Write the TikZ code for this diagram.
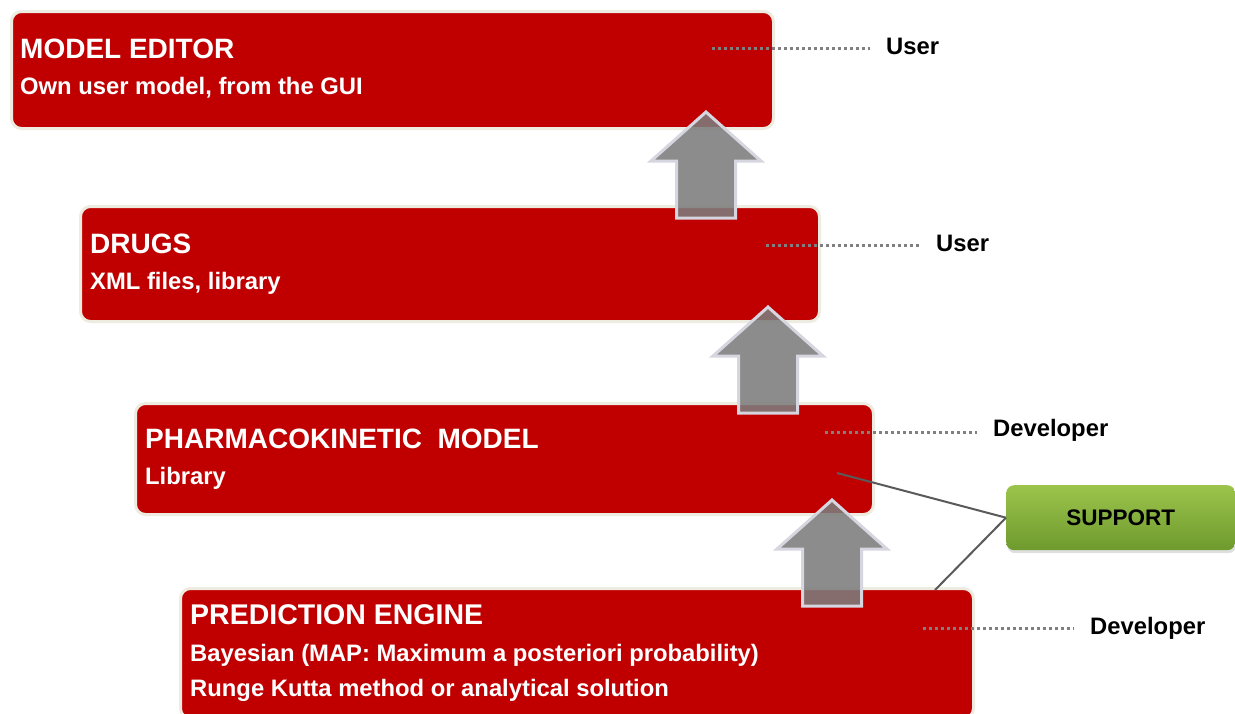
\documentclass[tikz,border=0pt]{standalone}
\usepackage{fontspec}
\setmainfont{Liberation Sans}
\usetikzlibrary{shadows}
\definecolor{boxred}{RGB}{192,0,0}
\definecolor{boxrim}{RGB}{238,236,225}
\definecolor{arrfill}{RGB}{125,125,125}
\definecolor{arrrim}{RGB}{214,214,224}
\definecolor{dotgray}{RGB}{128,128,128}
\definecolor{lngray}{RGB}{90,90,90}
\definecolor{suptop}{RGB}{156,196,76}
\definecolor{supbot}{RGB}{110,154,46}
\tikzset{
  redbox/.style={draw=boxrim, line width=3pt, fill=boxred, rounded corners=10pt, anchor=north west, inner sep=0pt},
  ttl/.style={anchor=base west, inner sep=0pt, text=white, font=\bfseries\fontsize{28}{30}\selectfont},
  sub/.style={anchor=base west, inner sep=0pt, text=white, font=\bfseries\fontsize{23.8}{25}\selectfont},
  lbl/.style={anchor=base west, inner sep=0pt, text=black, font=\bfseries\fontsize{23.8}{25}\selectfont},
  dotline/.style={draw=dotgray, line width=3pt, dash pattern=on 3pt off 3pt, shorten >=16pt},
  supline/.style={draw=lngray, line width=2pt},
  arrowstyle/.style={fill=arrfill, fill opacity=0.88, draw=arrrim, line width=3pt, line join=miter},
  pics/uparrow/.style={code={
    \path[arrowstyle] (0,0) -- (55,49) -- (29.5,49) -- (29.5,106) -- (-29.5,106) -- (-29.5,49) -- (-55,49) -- cycle;
  }},
  supbox/.style={rounded corners=8pt, top color=suptop, bottom color=supbot, draw=none,
    minimum width=229pt, minimum height=65pt, inner sep=0pt,
    drop shadow={shadow xshift=1pt, shadow yshift=-3pt, opacity=0.25},
    font=\bfseries\fontsize{22.5}{24}\selectfont}
}
\begin{document}
\begin{tikzpicture}[x=1pt,y=-1pt]
\useasboundingbox (0,0) rectangle (1235,713);
\fill[white] (0,0) rectangle (1235,713);

% boxes
\node[redbox, minimum width=762pt, minimum height=117pt] (me) at (10,10) {};
\node[redbox, minimum width=739pt, minimum height=115pt] (dr) at (79,205) {};
\node[redbox, minimum width=738pt, minimum height=111pt] (pk) at (134,402) {};
\node[redbox, minimum width=793pt, minimum height=130pt] (pe) at (179,587) {};

% texts
\node[ttl] (meT) at (20,58) {MODEL EDITOR};
\node[sub] (meS) at (20,94) {Own user model, from the GUI};
\node[ttl] (drT) at (90,253) {DRUGS};
\node[sub] (drS) at (90,289) {XML files, library};
\node[ttl] (pkT) at (145,448) {PHARMACOKINETIC\ \ MODEL};
\node[sub] (pkS) at (145,484) {Library};
\node[ttl, font=\bfseries\fontsize{28.5}{30}\selectfont] (peT) at (190,624) {PREDICTION ENGINE};
\node[sub] (peS1) at (190,661) {Bayesian (MAP: Maximum a posteriori probability)};
\node[sub] (peS2) at (190,696) {Runge Kutta method or analytical solution};

% up arrows
\pic at (706,112) {uparrow};
\pic at (768,307) {uparrow};
\pic at (832,500) {uparrow};

% labels and dotted leaders
\node[lbl] (u1) at (886,54) {User};
\node[lbl] (u2) at (936,251) {User};
\node[lbl] (v1) at (993,436) {Developer};
\node[lbl] (v2) at (1090,634) {Developer};
\coordinate (d1) at (712,48);
\coordinate (d2) at (766,245);
\coordinate (d3) at (825,432);
\coordinate (d4) at (923,628);
\draw[dotline] (d1) -- (d1 -| u1.west);
\draw[dotline] (d2) -- (d2 -| u2.west);
\draw[dotline] (d3) -- (d3 -| v1.west);
\draw[dotline] (d4) -- (d4 -| v2.west);

% support
\node[supbox, anchor=north west] (sup) at (1006,485) {SUPPORT};
\coordinate (s1) at (837,473);
\coordinate (s2) at (935,590);
\draw[supline] (s1) -- (sup.west);
\draw[supline] (s2) -- (sup.west);
\end{tikzpicture}
\end{document}
